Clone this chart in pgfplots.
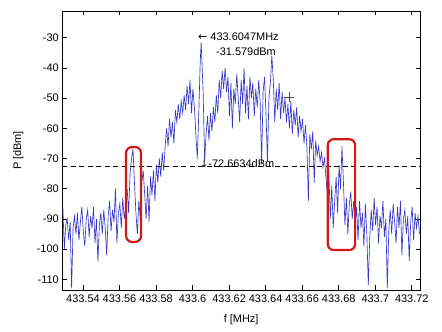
\documentclass[border=0pt]{standalone}
\usepackage{pgfplots}
\pgfplotsset{compat=1.18}
\usepackage{fontspec}
\setmainfont{Liberation Sans}
\newfontfamily\arrowfont{DejaVu Sans}
\definecolor{trace}{RGB}{55,55,200}
\definecolor{boxred}{RGB}{210,25,25}
\begin{document}
\begin{tikzpicture}
\useasboundingbox (-62.3bp,-42bp) rectangle (379.7bp,290bp);
\begin{axis}[
  at={(0,0)}, anchor=south west,
  scale only axis, width=357.7bp, height=279bp,
  xmin=433.5287, xmax=433.7245, ymin=-113.5, ymax=-21.2,
  xtick={433.54,433.56,433.58,433.60,433.62,433.64,433.66,433.68,433.70,433.72},
  xticklabels={433.54,433.56,433.58,433.6,433.62,433.64,433.66,433.68,433.7,433.72},
  ytick={-110,-100,-90,-80,-70,-60,-50,-40,-30},
  yticklabels={-110,-100,-90,-80,-70,-60,-50,-40,-30},
  tick align=inside, major tick length=4.5bp,
  every tick/.style={black, line width=0.6bp},
  axis line style={black, line width=0.8bp},
  tick label style={font=\fontsize{11}{13}\selectfont},
  label style={font=\fontsize{11}{13}\selectfont},
  xticklabel style={yshift=-1.5bp},
  xlabel={f [MHz]}, ylabel={P [dBm]},
  xlabel style={at={(axis description cs:0.5,-0.1075)}, anchor=center},
  ylabel style={at={(axis description cs:-0.123,0.5)}, anchor=center},
]
\addplot[trace, line width=0.65bp] table {
x y
433.5290 -86
433.5298 -100
433.5306 -92
433.5314 -90
433.5322 -97
433.5330 -91
433.5338 -113
433.5346 -93
433.5354 -89
433.5362 -95
433.5370 -88
433.5378 -97
433.5386 -91
433.5394 -86
433.5402 -94
433.5410 -99
433.5418 -90
433.5426 -87
433.5434 -96
433.5442 -89
433.5450 -93
433.5458 -86
433.5466 -98
433.5474 -90
433.5482 -104
433.5490 -92
433.5498 -88
433.5506 -95
433.5514 -87
433.5522 -93
433.5530 -102
433.5538 -89
433.5546 -84
433.5554 -94
433.5562 -87
433.5570 -91
433.5578 -80
433.5586 -98
433.5594 -88
433.5602 -85
433.5610 -93
433.5618 -83
433.5626 -90
433.5634 -86
433.5642 -80
433.5650 -88
433.5658 -75
433.5666 -70
433.5674 -67
433.5682 -78
433.5690 -88
433.5698 -95
433.5706 -84
433.5714 -90
433.5722 -78
433.5730 -74
433.5738 -82
433.5746 -90
433.5754 -79
433.5762 -91
433.5770 -76
433.5778 -82
433.5786 -74
433.5794 -84
433.5802 -72
433.5810 -78
433.5818 -70
433.5826 -76
433.5834 -68
433.5842 -74
433.5850 -66
433.5858 -60
433.5866 -66
433.5874 -57
433.5882 -63
433.5890 -58
433.5898 -65
433.5906 -54
433.5914 -58
433.5922 -52
433.5930 -57
433.5938 -51
433.5946 -55
433.5954 -49
433.5962 -54
433.5970 -46
433.5978 -52
433.5986 -44
433.5994 -55
433.6002 -47
433.6010 -53
433.6018 -62
433.6026 -70
433.6034 -55
433.6042 -38
433.6047 -31.579
433.6058 -48
433.6066 -71
433.6074 -62
433.6082 -56
433.6090 -64
433.6098 -55
433.6106 -61
433.6114 -53
433.6122 -58
433.6130 -49
433.6138 -55
433.6146 -44
433.6154 -50
433.6162 -41
433.6170 -47
433.6178 -40
433.6186 -48
433.6194 -43
433.6202 -56
433.6210 -45
433.6218 -60
433.6226 -47
433.6234 -52
433.6242 -42
433.6250 -50
433.6258 -58
433.6266 -44
433.6274 -52
433.6282 -40
433.6290 -55
433.6298 -46
433.6306 -57
433.6314 -43
433.6322 -50
433.6330 -45
433.6338 -56
433.6346 -47
433.6354 -53
433.6362 -44
433.6370 -51
433.6378 -72
433.6386 -48
433.6394 -43
433.6402 -55
433.6410 -71
433.6418 -50
433.6426 -45
433.6434 -36
433.6442 -44
433.6450 -58
433.6458 -47
433.6466 -54
433.6474 -45
433.6482 -57
433.6490 -48
433.6498 -55
433.6506 -50
433.6514 -58
433.6522 -52
433.6530 -60
433.6538 -51
433.6546 -62
433.6554 -54
433.6562 -59
433.6570 -53
433.6578 -63
433.6586 -56
433.6594 -61
433.6602 -57
433.6610 -65
433.6618 -59
433.6626 -66
433.6634 -84
433.6642 -62
433.6650 -67
433.6658 -61
433.6666 -78
433.6674 -64
433.6682 -69
433.6690 -66
433.6698 -71
433.6706 -68
433.6714 -73
433.6722 -70
433.6730 -76
433.6738 -82
433.6746 -74
433.6754 -90
433.6762 -79
433.6770 -93
433.6778 -84
433.6786 -76
433.6794 -88
433.6802 -72
433.6810 -80
433.6818 -66
433.6826 -78
433.6834 -92
433.6842 -83
433.6850 -95
433.6858 -85
433.6866 -81
433.6874 -90
433.6882 -84
433.6890 -92
433.6898 -86
433.6906 -97
433.6914 -84
433.6922 -93
433.6930 -88
433.6938 -99
433.6946 -85
433.6954 -95
433.6962 -112
433.6970 -96
433.6978 -87
433.6986 -94
433.6994 -83
433.7002 -92
433.7010 -86
433.7018 -98
433.7026 -89
433.7034 -93
433.7042 -84
433.7050 -96
433.7058 -90
433.7066 -113
433.7074 -94
433.7082 -87
433.7090 -95
433.7098 -85
433.7106 -91
433.7114 -98
433.7122 -86
433.7130 -93
433.7138 -84
433.7146 -102
433.7154 -90
433.7162 -87
433.7170 -95
433.7178 -89
433.7186 -104
433.7194 -91
433.7202 -86
433.7210 -97
433.7218 -88
433.7226 -93
433.7234 -89
433.7242 -95
};
\addplot[black, dashed, line width=0.7bp, dash pattern=on 5bp off 3.5bp] coordinates {(433.5287,-72.6634) (433.7245,-72.6634)};
\addplot[only marks, mark=+, mark size=5bp, black!70, mark options={line width=0.6bp}] coordinates {(433.653,-49.7)};
\draw[boxred, line width=2.2bp, rounded corners=6bp] (axis cs:433.5636,-66.2) rectangle (axis cs:433.5718,-97.6);
\draw[boxred, line width=2.2bp, rounded corners=6bp] (axis cs:433.6740,-63.6) rectangle (axis cs:433.6890,-100.3);
\node[anchor=west, inner sep=0pt, font=\fontsize{11}{13}\selectfont] at (axis cs:433.6030,-29.8) {{\arrowfont\fontsize{11}{13}\selectfont ←} 433.6047MHz};
\node[anchor=west, inner sep=0pt, font=\fontsize{11}{13}\selectfont] at (axis cs:433.6128,-34.7) {-31.579dBm};
\node[anchor=west, inner sep=0pt, font=\fontsize{11}{13}\selectfont] at (axis cs:433.6040,-71.8) {{\arrowfont\fontsize{10}{12}\selectfont ↓}-72.6634dBm};
\end{axis}
\end{tikzpicture}
\end{document}
